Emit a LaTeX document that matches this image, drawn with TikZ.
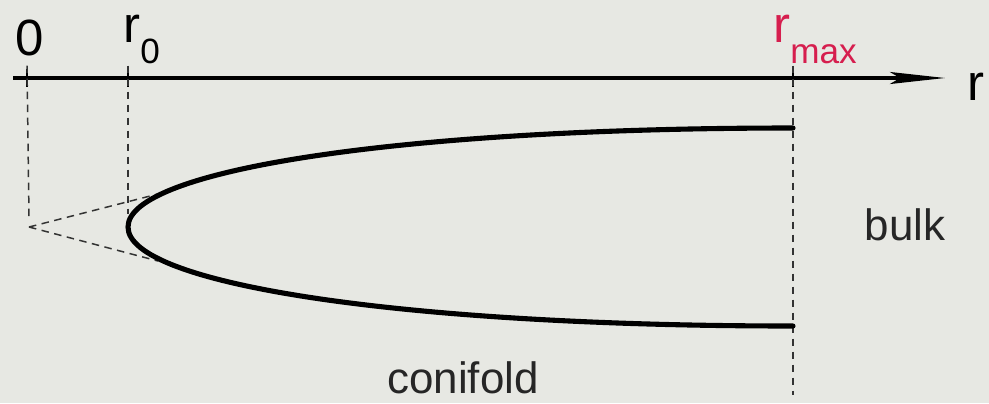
\documentclass[tikz,border=0pt]{standalone}
\usepackage{fontspec}
\setmainfont{Liberation Sans}
\usetikzlibrary{arrows.meta}

\definecolor{slidegray}{RGB}{231,232,227}
\definecolor{maxred}{RGB}{214,30,78}

\tikzset{
  axisline/.style={line width=1.9pt, -{Stealth[length=1.1cm, width=0.24cm, inset=0.2cm]}},
  guide/.style={line width=0.85pt, dash pattern=on 0.15cm off 0.11cm, black!80},
  throat/.style={line width=2.9pt, line cap=round},
  biglabel/.style={font=\fontsize{29}{31}\selectfont, inner sep=0pt},
  region/.style={font=\fontsize{25}{27}\selectfont, inner sep=0pt, black!85}
}
\newcommand{\lowsub}[1]{\raisebox{-0.42em}{\fontsize{20}{20}\selectfont #1}}

\begin{document}
\begin{tikzpicture}[x=0.02cm, y=-0.02cm]

    % Background and picture size
    \fill[slidegray] (0,0) rectangle (989,403);
    \useasboundingbox (0,0) rectangle (989,403);

    % Main horizontal axis
    \coordinate (start) at (13,78);
    \coordinate (tip) at (945,78);
    \draw[axisline] (start) -- (tip);

    % Tick positions on the axis
    \coordinate (zero) at (27,78);
    \coordinate (rnull) at (128,78);
    \coordinate (rmax) at (793,78);
    \foreach \p in {zero,rnull,rmax}
    \draw[line width=0.9pt] ([yshift=5]\p) -- ([yshift=-5]\p);

    % Labels above axis
    \node[biglabel, anchor=base] (lzero) at (30,55) {0};
    \node[biglabel, anchor=base west] (lrnull) at (123,42) {r\lowsub{0}};
    \node[biglabel, anchor=base west, text=maxred] (lrmax) at (773,42) {r\lowsub{max}};
    \node[biglabel, anchor=base west] (lr) at (967,100) {r};

    % Cone apex and throat of the curve
    \coordinate (apex) at (29,227);
    \coordinate (throat) at (128,227);
    \coordinate (up) at (158,194);
    \coordinate (down) at (158,261);
    \coordinate (topend) at (793,128);
    \coordinate (botend) at (793,326);

    % Dashed guide lines
    \draw[guide] ([yshift=7]zero) -- ([yshift=6]apex);
    \draw[guide] ([yshift=7]rnull) -- (128,214);
    \draw[guide] ([yshift=7]rmax) -- (793,395);
    \draw[guide] (apex) -- (up);
    \draw[guide] (apex) -- (down);

    % Deformed cone
    \draw[throat] (topend) .. controls (400,128) and (128,170) .. (throat)
                  .. controls (128,284) and (400,326) .. (botend);

    % Region names
    \node[region, anchor=base] (bulk) at (905,240) {bulk};
    \node[region, anchor=base] (conifold) at (463,393) {conifold};

  \end{tikzpicture}
\end{document}
